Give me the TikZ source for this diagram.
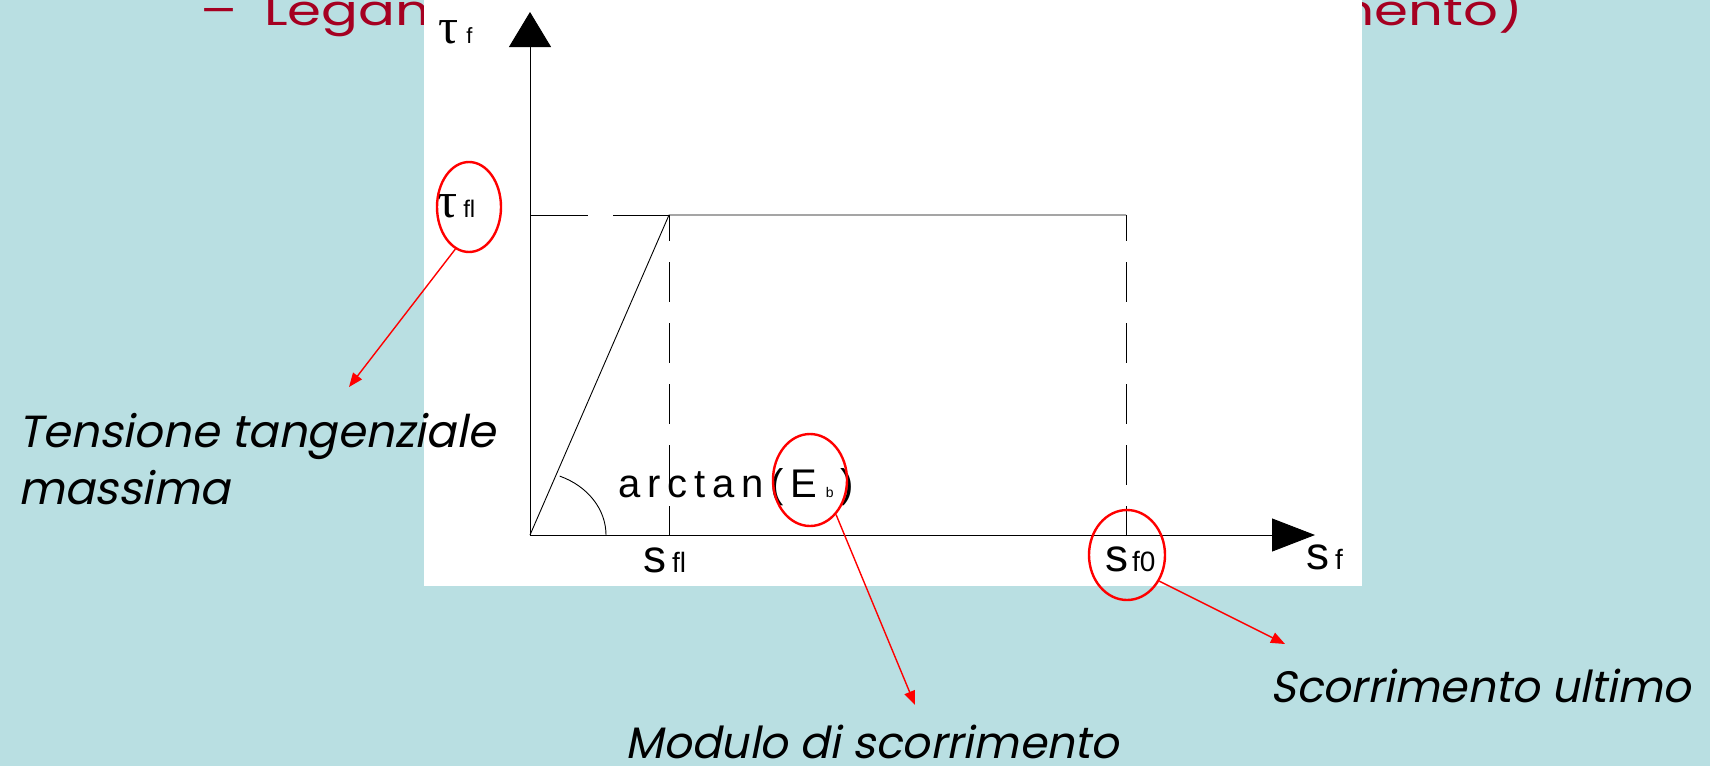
\documentclass[tikz,border=0pt]{standalone}
\usepackage{fontspec}
\usetikzlibrary{arrows.meta,shapes.geometric}
\setmainfont{Liberation Sans}
\newfontfamily\gothic[FakeStretch=1.3]{Poppins}
\newfontfamily\gothicit[FakeSlant=0.2]{Poppins}
\newfontfamily\taufont{Liberation Serif}
\newfontfamily\arialsp[LetterSpace=17]{Liberation Sans}
\definecolor{bgteal}{RGB}{185,223,226}
\definecolor{hdred}{RGB}{165,0,33}
\newcommand{\fsz}[1]{\fontsize{#1}{#1}\selectfont}
\begin{document}
\begin{tikzpicture}[x=1pt,y=-1pt,
  thinline/.style={line width=0.9pt,black},
  vdash/.style={thinline,dash pattern=on 40pt off 21pt,dash phase=14pt},
  hdash/.style={thinline,dash pattern=on 58pt off 25pt},
  circ/.style={draw=red,line width=2.4pt,ellipse,inner sep=0pt},
  redarrow/.style={red,line width=1.4pt,-{Triangle[length=14pt,width=11pt]}},
  lbl/.style={inner sep=0pt,anchor=base west},
  itlabel/.style={lbl,font=\gothicit\fsz{44}},
  header/.style={inner sep=0pt,text=hdred,font=\gothic\fsz{42}}]
\useasboundingbox (0,0) rectangle (1710,766);
\fill[bgteal] (0,0) rectangle (1710,766);
% header fragments (partly hidden by the white panel)
\node[header,anchor=base] (hdash) at (219,25) {–};
\node[header,anchor=base west] (hleft) at (264,25) {Legam};
\node[header,anchor=base east] (hright) at (1523,25) {mento)};
% white panel
\fill[white] (424,0) rectangle (1362,586);
% coordinates
\coordinate (O) at (530,535);
\coordinate (ytip) at (530,12);
\coordinate (xtip) at (1315,535);
\coordinate (Y1) at (530,215);
\coordinate (P) at (669,215);
\coordinate (Q) at (1126,215);
\coordinate (A) at (669,535);
\coordinate (B) at (1126,535);
% axes
\draw[thinline,-{Triangle[length=35pt,width=42pt]}] (O) -- (ytip);
\draw[thinline,-{Triangle[length=43pt,width=33pt]}] (O) -- (xtip);
% diagram lines
\draw[hdash] (Y1) -- (P);
\draw[thinline] (O) -- (P) -- (Q);
\draw[vdash] (P) -- (A);
\draw[vdash] (Q) -- (B);
\draw[thinline] (606,535) arc[start angle=0,end angle=67,x radius=76pt,y radius=64pt];
% axis labels
\node[lbl] (tauf) at (438,43) {{\taufont\fsz{50}τ}\hspace{8pt}{\fsz{22}f}};
\node[lbl] (taufl) at (437,217) {{\taufont\fsz{50}τ}\hspace{6pt}{\fsz{24}fl}};
\node[lbl] (sfl) at (643,572) {{\fsz{46}s}\hspace{6pt}{\fsz{28}fl}};
\node[lbl] (sf0) at (1105,571) {{\fsz{46}s}\hspace{4pt}{\fsz{28}f0}};
\node[lbl] (sf) at (1306,569) {{\fsz{46}s}\hspace{6pt}{\fsz{28}f}};
\node[lbl] (arct) at (618,497) {{\arialsp\fsz{40}arctan(E}\hspace{9pt}{\fsz{14}b}\hspace{7pt}{\fsz{40})}};
% red ellipses
\node[circ,minimum width=64pt,minimum height=90pt] (e1) at (469,207) {};
\node[circ,minimum width=74pt,minimum height=92pt] (e2) at (810,480) {};
\node[circ,minimum width=76pt,minimum height=90pt] (e3) at (1127,555) {};
% arrow tips
\coordinate (t1) at (349,387);
\coordinate (t2) at (915,705);
\coordinate (t3) at (1285,644);
\draw[redarrow] (e1.-108) -- (t1);
\draw[redarrow] (e2.-53) -- (t2);
\draw[redarrow] (e3.-39) -- (t3);
% italic labels
\node[itlabel,font=\gothicit\fsz{45}] (lab1a) at (18,447) {Tensione tangenziale};
\node[itlabel,font=\gothicit\fsz{45}] (lab1b) at (18,504) {massima};
\node[itlabel] (lab2) at (625,758) {Modulo di scorrimento};
\node[itlabel] (lab3) at (1270,702) {Scorrimento ultimo};
\end{tikzpicture}
\end{document}
